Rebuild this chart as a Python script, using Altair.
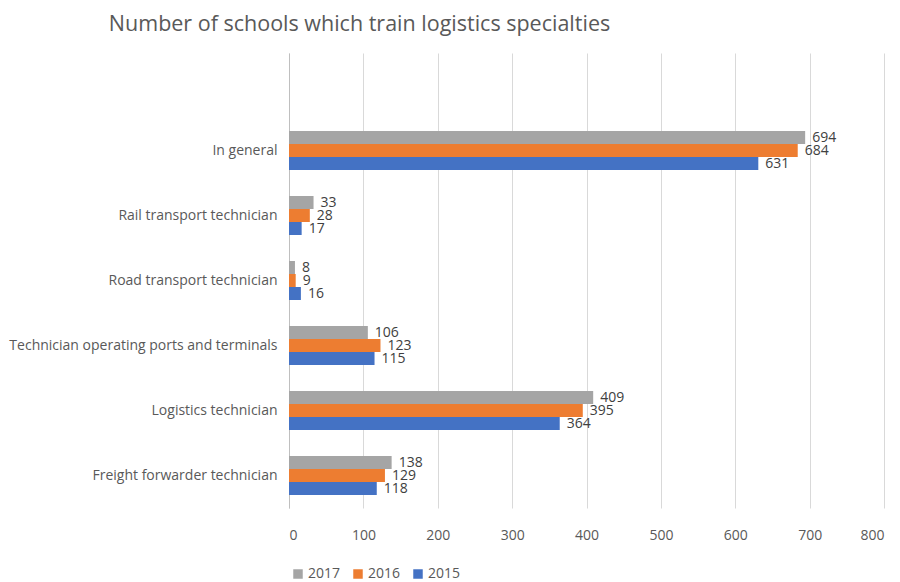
import altair as alt
import pandas as pd

categories = [
    "In general",
    "Rail transport technician",
    "Road transport technician",
    "Technician operating ports and terminals",
    "Logistics technician",
    "Freight forwarder technician",
]
years = ["2017", "2016", "2015"]
values_2017 = [694, 33, 8, 106, 409, 138]
values_2016 = [684, 28, 9, 123, 395, 129]
values_2015 = [631, 17, 16, 115, 364, 118]
colors = ["#A5A5A5", "#ED7D31", "#4472C4"]

rows = []
for yr, vals in zip(years, [values_2017, values_2016, values_2015]):
    for c, v in zip(categories, vals):
        rows.append({"category": c, "year": yr, "value": v})
df = pd.DataFrame(rows)

FONT = "Open Sans"
y_domain = [" "] + categories

y_enc = alt.Y(
    "category:N",
    scale=alt.Scale(domain=y_domain, paddingInner=0.4, paddingOuter=0.2),
    axis=alt.Axis(
        title=None, ticks=False, domain=True, domainColor="#bfbfbf",
        labelFontSize=14, labelColor="#595959", labelFont=FONT,
        labelPadding=12, labelLimit=400,
    ),
)
yoff = alt.YOffset("year:N", scale=alt.Scale(domain=years, paddingInner=0, paddingOuter=0))

base = alt.Chart(df)

bars = base.mark_bar(size=13).encode(
    y=y_enc,
    yOffset=yoff,
    x=alt.X(
        "value:Q",
        scale=alt.Scale(domain=[0, 800], nice=False),
        axis=alt.Axis(
            title=None, values=[0, 100, 200, 300, 400, 500, 600, 700, 800],
            grid=True, gridColor="#d9d9d9", domain=False, ticks=False,
            labelFontSize=14, labelColor="#595959", labelFont=FONT, labelPadding=20,
        ),
    ),
    color=alt.Color(
        "year:N",
        scale=alt.Scale(domain=years, range=colors),
        legend=alt.Legend(
            title=None, orient="none", direction="horizontal",
            legendX=2, legendY=514, symbolType="square", symbolSize=90,
            symbolStrokeWidth=0, labelFontSize=14, labelColor="#595959",
            labelFont=FONT, columnPadding=10, labelOffset=3,
        ),
    ),
)

labels = base.mark_text(align="left", dx=7, fontSize=14, color="#404040", font=FONT).encode(
    y=y_enc,
    yOffset=yoff,
    x="value:Q",
    text="value:Q",
)

chart = (
    alt.layer(bars, labels)
    .properties(
        width=595,
        height=455,
        padding={"left": 0, "top": 5, "right": 5, "bottom": 0},
        title=alt.Title(
            "Number of schools which train logistics specialties",
            anchor="start", dx=100, fontSize=21.5, fontWeight="normal",
            color="#595959", font=FONT, offset=18,
        ),
    )
    .configure_view(stroke=None)
)

chart.save("out.html", embed_options={"renderer": "svg", "actions": False})
